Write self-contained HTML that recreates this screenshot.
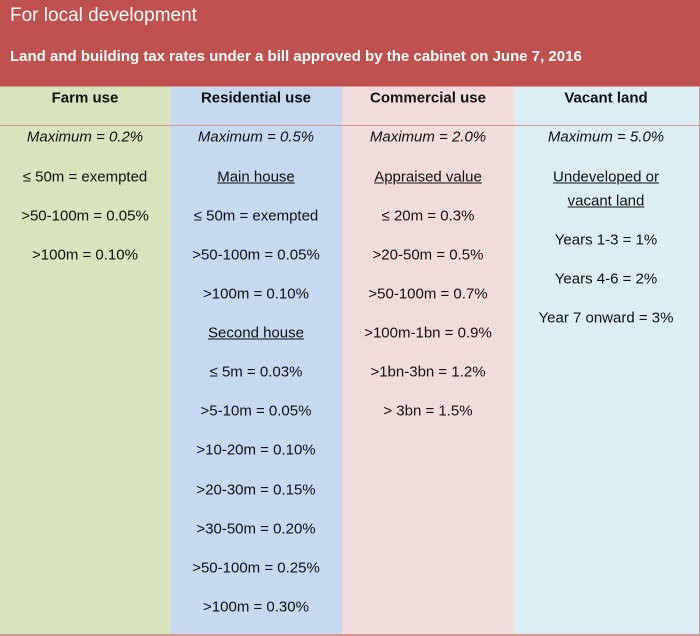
<!DOCTYPE html>
<html><head><meta charset="utf-8"><style>
body{margin:0;width:700px;height:636px;position:relative;overflow:hidden;font-family:"Liberation Sans",sans-serif;background:#fff}
.hdr{position:absolute;left:0;top:0;width:700px;height:86px;background:#c0504d}
.col{position:absolute;top:86px;height:548px}
.t{position:absolute;transform:translate(-50%,-50%);white-space:nowrap;font-size:15px;color:#111}
.i{font-style:italic}.u{text-decoration:underline}.b{font-weight:bold}
</style></head><body>
<div class="hdr">
<div style="position:absolute;left:10px;top:5px;font-size:19px;color:#fff">For local development</div>
<div style="position:absolute;left:10px;top:48px;font-size:15px;font-weight:bold;color:#fff">Land and building tax rates under a bill approved by the cabinet on June 7, 2016</div>
</div>
<div class="col" style="left:0;width:171px;background:#d7e4bc"></div>
<div class="col" style="left:171px;width:171px;background:#c5d9f1"></div>
<div class="col" style="left:342px;width:172px;background:#f2dcdb"></div>
<div class="col" style="left:514px;width:185px;background:#daeef3"></div>
<div style="position:absolute;left:0;top:86px;width:700px;height:1px;background:#d99694"></div>
<div style="position:absolute;left:0;top:125px;width:700px;height:1px;background:#d99694"></div>
<div style="position:absolute;left:0;top:634px;width:700px;height:2px;background:#d99694"></div>
<div style="position:absolute;left:699px;top:86px;width:1px;height:550px;background:#d99694"></div>
<div id="cells"></div>
<script>
const cols=[85,256,428,606];
const heads=["Farm use","Residential use","Commercial use","Vacant land"];
const data=[
[["i","Maximum = 0.2%",137],["","≤ 50m = exempted",177],["",">50-100m = 0.05%",216],["",">100m = 0.10%",255]],
[["i","Maximum = 0.5%",137],["u","Main house",177],["","≤ 50m = exempted",216],["",">50-100m = 0.05%",255],["",">100m = 0.10%",294],["u","Second house",333],["","≤ 5m = 0.03%",372],["",">5-10m = 0.05%",411],["",">10-20m = 0.10%",450],["",">20-30m = 0.15%",490],["",">30-50m = 0.20%",529],["",">50-100m = 0.25%",568],["",">100m = 0.30%",607]],
[["i","Maximum = 2.0%",137],["u","Appraised value",177],["","≤ 20m = 0.3%",216],["",">20-50m = 0.5%",255],["",">50-100m = 0.7%",294],["",">100m-1bn = 0.9%",333],["",">1bn-3bn = 1.2%",372],["","> 3bn = 1.5%",411]],
[["i","Maximum = 5.0%",137],["u","Undeveloped or",177],["u","vacant land",201],["","Years 1-3 = 1%",240],["","Years 4-6 = 2%",279],["","Year 7 onward = 3%",318]]
];
const root=document.getElementById('cells');
heads.forEach((h,c)=>{
 const d=document.createElement('div');d.className='t b';
 d.style.left=cols[c]+'px';d.style.top='98px';d.textContent=h;
 
 
 root.appendChild(d);
 data[c].forEach(r=>{
  const e=document.createElement('div');e.className='t '+r[0];
  e.style.left=cols[c]+'px';e.style.top=r[2]+'px';e.textContent=r[1];
  
  
  root.appendChild(e);
 });
});
</script>
</body></html>
